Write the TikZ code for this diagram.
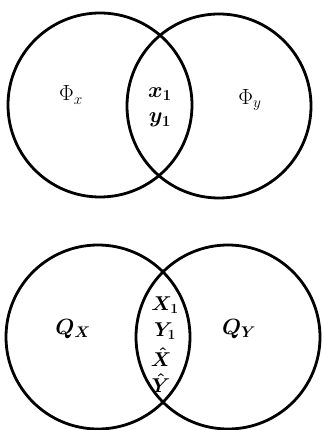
\RequirePackage{fix-cm}
\documentclass[tikz,border=0pt]{standalone}
\usepackage{amsmath,bm}
\newcommand{\bigtxt}[1]{{\fontsize{22}{24}\selectfont #1}}
\newcommand{\midtxt}[1]{{\fontsize{20}{22}\selectfont #1}}
\begin{document}
\begin{tikzpicture}[x=1pt,y=-1pt,
  ring/.style={draw=black,line width=2.8pt,circle,minimum size=184pt,inner sep=0pt},
  lbl/.style={inner sep=0pt}]
\useasboundingbox (0,0) rectangle (321,430);
\node[ring] (c1) at (100,105) {};
\node[ring] (c2) at (219,106) {};
\node[ring] (c3) at (98,337) {};
\node[ring] (c4) at (228,337) {};
\node[lbl] (phx) at (71,95) {\bigtxt{$\Phi_x$}};
\node[lbl] (x1) at (160,94) {\bigtxt{$\bm{x_1}$}};
\node[lbl] (y1) at (160,120) {\bigtxt{$\bm{y_1}$}};
\node[lbl] (phy) at (250,100) {\bigtxt{$\Phi_y$}};
\node[lbl] (qx) at (73,329) {\bigtxt{$\bm{Q_X}$}};
\node[lbl] (qy) at (239,329) {\bigtxt{$\bm{Q_Y}$}};
\node[lbl] (X1) at (165,305) {\midtxt{$\bm{X_1}$}};
\node[lbl] (Y1) at (165,331) {\midtxt{$\bm{Y_1}$}};
\node[lbl] (Xh) at (161,357) {\midtxt{$\bm{\hat{X}}$}};
\node[lbl] (Yh) at (161,383) {\midtxt{$\bm{\hat{Y}}$}};
\end{tikzpicture}
\end{document}
